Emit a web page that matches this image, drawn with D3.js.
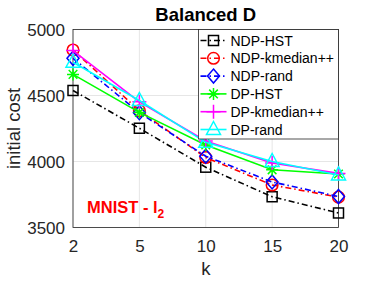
<!DOCTYPE html>
<html>
<head>
<meta charset="utf-8">
<script src="https://cdn.jsdelivr.net/npm/d3@7"></script>
<style>
  body { margin: 0; background: #fff; }
  text { font-family: "Liberation Sans", Arial, sans-serif; }
</style>
</head>
<body>
<div id="chart"></div>
<script>
// data
const kValues = ['2', '5', '10', '15', '20'];
const yTicks = [3500, 4000, 4500, 5000];

const ndpHst = [4538, 4252, 3957, 3733, 3610];
const ndpKmedian = [4845, 4385, 4030, 3822, 3730];
const ndpRand = [4782, 4370, 4040, 3845, 3735];
const dpHst = [4660, 4372, 4125, 3937, 3905];
const dpKmedian = [4840, 4452, 4155, 3988, 3910];
const dpRand = [4752, 4462, 4145, 4000, 3898];

const seriesNames = ['NDP-HST', 'NDP-kmedian++', 'NDP-rand', 'DP-HST', 'DP-kmedian++', 'DP-rand'];
const seriesValues = [ndpHst, ndpKmedian, ndpRand, dpHst, dpKmedian, dpRand];
const seriesColors = ['#000000', '#ff0000', '#0000ff', '#00ff00', '#ff00ff', '#00ffff'];
const seriesMarkers = ['square', 'circle', 'diamond', 'star', 'plus', 'triangle'];
const seriesDashed = [true, true, true, false, false, false];

const margin = { top: 29.5, right: 35.5, bottom: 53.5, left: 73 };
const width = 374, height = 281;
const graphWidth = width - margin.left - margin.right;
const graphHeight = height - margin.top - margin.bottom;

const svg = d3.select('#chart')
    .append('svg')
    .attr('width', width)
    .attr('height', height);

const chart = svg.append('g')
    .attr('transform', `translate(${margin.left}, ${margin.top})`);

// scales
const x = d3.scalePoint()
    .domain(kValues)
    .range([0, graphWidth]);

const y = d3.scaleLinear()
    .domain([3500, 5000])
    .range([graphHeight, 0]);

// grid
chart.append('g')
    .selectAll('line')
    .data(kValues)
    .enter().append('line')
    .attr('x1', d => x(d)).attr('x2', d => x(d))
    .attr('y1', 0).attr('y2', graphHeight)
    .attr('stroke', '#e6e6e6').attr('stroke-width', 1);

chart.append('g')
    .selectAll('line')
    .data(yTicks)
    .enter().append('line')
    .attr('x1', 0).attr('x2', graphWidth)
    .attr('y1', d => y(d)).attr('y2', d => y(d))
    .attr('stroke', '#e6e6e6').attr('stroke-width', 1);

// axes
const xAxis = d3.axisBottom(x).tickSize(0).tickPadding(8);
const yAxis = d3.axisLeft(y)
    .tickValues(yTicks)
    .tickFormat(d3.format('d'))
    .tickSize(0)
    .tickPadding(8);

const xAxisGroup = chart.append('g')
    .attr('transform', `translate(0, ${graphHeight})`)
    .call(xAxis);
const yAxisGroup = chart.append('g').call(yAxis);

[xAxisGroup, yAxisGroup].forEach(g => {
    g.select('.domain').remove();
    g.selectAll('text')
        .attr('fill', '#262626')
        .style('font-size', '17px')
        .style('font-family', '"Liberation Sans", Arial, sans-serif');
});
xAxisGroup.selectAll('text').attr('dy', '0.95em');
yAxisGroup.selectAll('text').attr('dy', '0.36em');

// box
chart.append('rect')
    .attr('width', graphWidth)
    .attr('height', graphHeight)
    .attr('fill', 'none')
    .attr('stroke', '#262626')
    .attr('stroke-width', 0.8);

// marker shapes
const drawMarker = (g, type, color) => {
    if (type === 'square') {
        g.append('rect').attr('x', -5).attr('y', -5).attr('width', 10).attr('height', 10)
            .attr('fill', 'none').attr('stroke', color).attr('stroke-width', 1.5);
    } else if (type === 'circle') {
        g.append('circle').attr('r', 5.8)
            .attr('fill', 'none').attr('stroke', color).attr('stroke-width', 1.5);
    } else if (type === 'diamond') {
        g.append('path').attr('d', 'M0,-7L6,0L0,7L-6,0Z')
            .attr('fill', 'none').attr('stroke', color).attr('stroke-width', 1.5);
    } else if (type === 'star') {
        g.append('path').attr('d', 'M0,-6V6M-6,0H6M-4.3,-4.3L4.3,4.3M-4.3,4.3L4.3,-4.3')
            .attr('fill', 'none').attr('stroke', color).attr('stroke-width', 1.5);
    } else if (type === 'plus') {
        g.append('path').attr('d', 'M0,-7V7M-7,0H7')
            .attr('fill', 'none').attr('stroke', color).attr('stroke-width', 1.5);
    } else if (type === 'triangle') {
        g.append('path').attr('d', 'M0,-8L7,5L-7,5Z')
            .attr('fill', 'none').attr('stroke', color).attr('stroke-width', 1.5);
    }
};

// lines
const line = d3.line()
    .x((d, i) => x(kValues[i]))
    .y(d => y(d));

seriesValues.forEach((vals, s) => {
    const g = chart.append('g');
    g.append('path')
        .datum(vals)
        .attr('d', line)
        .attr('fill', 'none')
        .attr('stroke', seriesColors[s])
        .attr('stroke-width', 1.6)
        .attr('stroke-dasharray', seriesDashed[s] ? '6,3,1.5,3' : null);
    vals.forEach((v, i) => {
        const m = g.append('g')
            .attr('transform', `translate(${x(kValues[i])}, ${y(v)})`);
        drawMarker(m, seriesMarkers[s], seriesColors[s]);
    });
});

// annotation
const note = chart.append('text')
    .attr('x', 14)
    .attr('y', 183.5)
    .attr('fill', '#ff0000')
    .style('font-size', '16.5px')
    .style('font-weight', 'bold');
note.append('tspan').text('MNIST - l');
note.append('tspan').attr('dy', 5).style('font-size', '12px').text('2');

// legend
const legend = svg.append('g')
    .attr('transform', 'translate(198.5, 29.5)');
legend.append('rect')
    .attr('width', 140)
    .attr('height', 109.5)
    .attr('fill', '#fff')
    .attr('stroke', '#262626')
    .attr('stroke-width', 0.8);

seriesNames.forEach((name, s) => {
    const row = legend.append('g')
        .attr('transform', `translate(0, ${11 + s * 17.8})`);
    row.append('line')
        .attr('x1', 2).attr('x2', 28)
        .attr('stroke', seriesColors[s])
        .attr('stroke-width', 1.6)
        .attr('stroke-dasharray', seriesDashed[s] ? '6,3,1.5,3' : null);
    drawMarker(row.append('g').attr('transform', 'translate(15, 0)'), seriesMarkers[s], seriesColors[s]);
    row.append('text')
        .attr('x', 32)
        .attr('dy', '0.36em')
        .attr('fill', '#000')
        .style('font-size', '14px')
        .text(name);
});

// titles
svg.append('text')
    .attr('x', margin.left + graphWidth / 2)
    .attr('y', 21)
    .attr('text-anchor', 'middle')
    .attr('fill', '#000')
    .style('font-size', '18.5px')
    .style('font-weight', 'bold')
    .text('Balanced D');

svg.append('text')
    .attr('x', margin.left + graphWidth / 2)
    .attr('y', 275)
    .attr('text-anchor', 'middle')
    .attr('fill', '#262626')
    .style('font-size', '18.5px')
    .text('k');

svg.append('text')
    .attr('transform', `translate(20, ${margin.top + graphHeight / 2}) rotate(-90)`)
    .attr('text-anchor', 'middle')
    .attr('fill', '#262626')
    .style('font-size', '18.5px')
    .text('initial cost');
</script>
</body>
</html>
